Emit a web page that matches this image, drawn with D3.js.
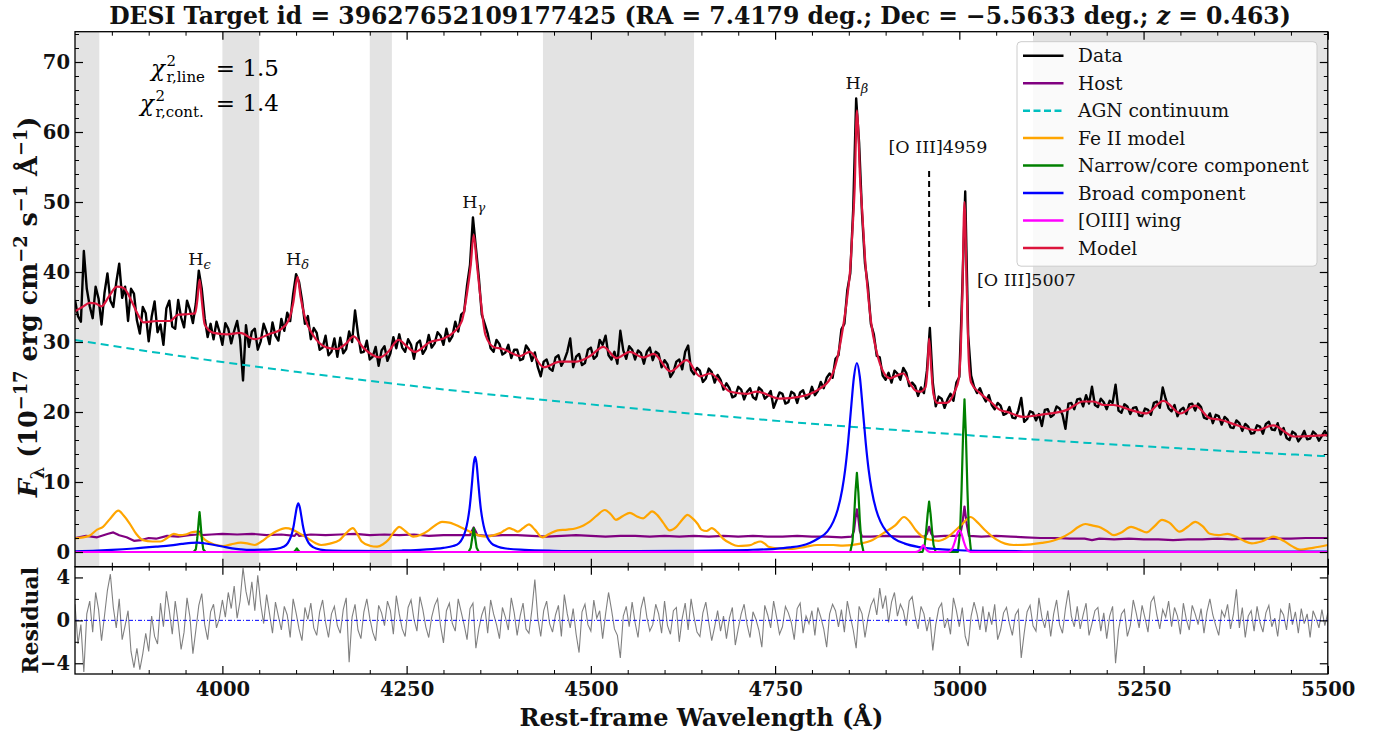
<!DOCTYPE html>
<html>
<head>
<meta charset="utf-8">
<script src="https://cdn.jsdelivr.net/npm/d3@7"></script>
<style>
  body { margin: 0; background: #fff; }
  text { font-family: 'DejaVu Serif', serif; }
</style>
</head>
<body>
<div id="chart"></div>
<script>
// ---- data ----
// observed spectrum, 4 A grid starting 3800
const dataStart = 3800
const dataStep = 4
const dataFlux = [
  36.0, 33.7, 32.9, 43.0, 37.6, 35.1, 33.4, 37.9, 36.2, 32.5,
  37.0, 39.8, 35.9, 35.0, 38.5, 41.2, 36.3, 37.9, 33.0, 37.6,
  36.9, 33.1, 31.2, 35.0, 34.1, 30.1, 33.6, 35.8, 31.4, 32.5,
  29.6, 34.8, 35.9, 32.2, 31.9, 36.0, 33.5, 32.1, 35.9, 34.6,
  32.7, 35.5, 40.2, 37.6, 33.4, 30.7, 32.6, 30.4, 32.9, 31.5,
  29.6, 32.7, 31.9, 29.8, 31.6, 33.0, 30.4, 24.5, 32.4, 29.3,
  31.5, 31.9, 28.9, 30.1, 32.6, 31.4, 29.7, 32.8, 30.9, 30.2,
  33.3, 31.6, 34.2, 33.0, 36.8, 39.7, 38.6, 36.0, 32.6, 33.7,
  30.4, 32.0, 31.3, 28.9, 29.2, 30.9, 28.1, 28.6, 30.5, 27.9,
  30.6, 28.4, 29.0, 31.5, 30.0, 34.5, 31.2, 28.5, 28.6, 30.2,
  27.5, 27.9, 29.3, 26.6, 28.8, 29.4, 27.3, 28.4, 30.7, 29.1,
  31.1, 29.2, 28.6, 30.4, 29.6, 27.6, 29.8, 30.2, 28.3, 29.0,
  31.0, 29.2, 29.8, 31.4, 30.9, 29.6, 31.9, 30.1, 30.8, 32.9,
  31.5, 33.9, 34.3, 38.1, 41.0, 47.8, 43.5, 39.2, 33.9, 32.6,
  31.2, 29.1, 28.6, 30.3, 29.7, 28.2, 28.5, 29.6, 27.7, 28.9,
  28.9, 27.4, 27.6, 29.5, 28.9, 27.3, 28.5, 26.4, 25.1, 27.2,
  27.5, 26.2, 25.9, 27.8, 28.1, 26.6, 27.4, 28.6, 30.5, 26.4,
  27.9, 28.3, 26.7, 27.0, 28.9, 29.2, 27.6, 28.0, 30.3, 29.6,
  30.9, 28.1, 27.5, 28.6, 26.9, 31.6, 28.8, 27.6, 29.4, 28.9,
  27.5, 28.8, 28.4, 26.9, 28.6, 29.2, 27.4, 28.6, 28.3, 26.4,
  27.4, 26.8, 25.0, 25.7, 27.2, 27.5, 26.1, 28.6, 29.5, 26.0,
  25.4, 26.3, 25.9, 24.3, 24.8, 26.2, 25.7, 24.2, 25.3, 24.6,
  23.2, 24.1, 23.4, 22.1, 22.3, 23.6, 23.2, 21.8, 22.9, 23.4,
  22.1, 21.8, 23.5, 23.1, 21.9, 22.3, 23.0, 20.6, 21.7, 22.8,
  22.6, 21.2, 21.4, 22.9, 22.6, 21.3, 22.8, 23.1, 21.9, 22.2,
  23.6, 22.4, 23.0, 24.3, 23.4, 24.9, 25.5, 24.9, 27.6, 28.1,
  31.8, 32.6, 37.4, 39.8, 49.0, 64.8, 58.5, 48.3, 41.2, 37.9,
  32.6, 31.1, 28.0, 27.8, 25.2, 24.6, 25.6, 24.2, 25.9, 25.5,
  24.6, 26.3, 25.6, 23.7, 24.2, 23.7, 22.3, 23.5, 22.7, 25.9,
  32.0, 24.2, 20.8, 22.2, 21.9, 20.6, 21.8, 22.6, 21.6, 24.2,
  25.0, 37.5, 51.5, 31.0, 25.2, 23.6, 22.7, 23.4, 22.3, 21.5,
  22.4, 21.0, 20.4, 21.3, 20.9, 19.6, 19.8, 20.7, 19.2, 19.1,
  20.2, 22.0, 18.6, 19.0, 20.1, 19.9, 18.8, 19.7, 18.0, 20.3,
  20.4, 19.3, 19.6, 20.8, 20.5, 19.6, 17.6, 21.2, 21.3, 20.4,
  21.8, 21.9, 20.8, 22.4, 21.2, 23.6, 21.0, 20.7, 21.9, 21.4,
  20.4, 21.6, 21.3, 23.9, 20.2, 19.9, 21.1, 20.8, 19.7, 20.6,
  20.7, 19.5, 19.4, 20.5, 20.3, 19.6, 21.3, 21.5, 20.6, 23.5,
  21.9, 20.5, 20.1, 21.0, 19.4, 20.3, 20.6, 19.7, 21.1, 21.2,
  20.2, 21.2, 20.7, 19.2, 19.0, 19.8, 18.4, 19.6, 19.4, 18.2,
  19.3, 18.9, 17.8, 17.7, 18.8, 18.4, 17.3, 18.3, 17.9, 16.9,
  17.0, 18.1, 17.9, 16.9, 18.3, 18.6, 17.5, 17.4, 18.4, 16.8,
  17.7, 16.3, 16.0, 17.2, 16.9, 15.8, 16.4, 17.3, 16.1, 16.2,
  17.2, 16.8, 15.9, 16.6, 17.3, 16.5
]

// residual (data - model) / error, same grid
const residual = [
  1.5, -2.2, -0.4, -4.8, 0.6, 1.8, -1.1, 2.6, 1.0, -1.9,
  0.4, 2.8, 4.3, 1.2, -0.7, 2.0, -1.8, -0.5, 0.9, -2.9,
  -4.4, -2.6, -4.6, -3.1, -1.2, -2.9, 0.4, -1.5, -2.2, 1.6,
  -0.6, 2.7, 0.9, -1.3, 1.8, -0.2, -2.7, -1.1, 2.1, 0.3,
  -3.1, -0.9, 1.4, 2.5, -0.4, -1.8, 0.8, 1.5, -0.7, 0.2,
  1.9, 0.3, 2.6, 1.1, 3.2, 0.2, 1.8, 4.9, 2.7, 1.4,
  3.6, 0.9, 4.2, 1.5, -0.3, 2.4, 0.6, -1.2, 1.7, 0.4,
  -0.9, 1.3, 0.5, -1.6, 2.0, 0.7, -0.8, -1.9, 1.2, 0.1,
  1.6, -0.7, -1.4, 0.8, 1.9, -0.2, -1.6, 0.6, 1.3, -0.5,
  -1.2, 1.0, 2.1, -3.9, 0.3, 1.5, -0.9, -1.7, 0.8, 2.0,
  0.2, -1.1, -1.9, 1.4, 0.7, -0.5, 1.8, 0.9, -1.3, 2.3,
  0.6, -0.8, -1.5, 1.2, 1.9, 0.1, -1.0, 2.2, 1.0, -0.6,
  -1.6, 0.3, 1.4, 2.0, -0.5, -2.1, 0.9, 1.6, -0.3, -1.0,
  2.0, 0.8, -0.4, -1.8, 1.1, 1.6, -2.6, -0.8, 0.5, 1.3,
  -1.2, 1.9, 0.6, -0.4, -1.7, 1.2, 0.3, -0.9, 2.1, 0.7,
  -1.4, 0.4, 1.6, -0.8, -1.2, 1.0, 3.8, 0.2, -1.5, 0.9,
  1.8, -0.3, -1.1, 0.5, 1.4, -1.5, 2.4, 0.6, -0.7, 1.1,
  -1.3, -3.0, 0.8, 1.5, -0.4, -1.0, 1.9, 0.2, 0.9, -1.7,
  0.6, 2.6, 1.0, -0.8, -1.4, -3.5, 0.4, 1.3, -0.6, 1.7,
  -0.2, -1.6, 1.1, 2.2, 0.3, -1.0, -0.4, 1.5, 0.6, -1.2,
  1.8, -0.5, -1.3, 0.9, 1.2, -2.0, 0.2, 1.6, -0.9, 2.0,
  0.3, -1.1, -1.5, 0.7, 1.7, -0.2, -1.9, -0.6, 0.9, -1.0,
  0.4, -1.7, 0.2, 1.2, -2.3, -0.8, 0.6, 1.5, -0.4, -1.6,
  0.8, 0.1, -0.9, -2.5, 1.4, 0.5, -0.7, 1.8, 0.3, -1.3,
  -0.6, 1.3, 0.7, -0.2, -1.8, 1.1, 1.6, -1.2, 0.4, -0.3,
  0.9, -1.4, 1.2, 0.3, -0.8, -2.5, 0.6, 1.5, 0.9, -0.6,
  1.0, -1.1, 1.8, 0.4, -0.9, -2.6, 1.3, 0.6, -1.6, 0.2,
  1.4, 2.0, 0.5, 3.0, 1.1, 2.3, -0.2, 1.7, 2.6, 0.4,
  1.5, 0.9, -0.5, 1.8, 2.2, 0.4, -0.8, 1.3, 0.6, -1.0,
  0.3, -2.8, -0.4, 1.1, 1.6, -0.7, 0.2, -1.3, 2.1, 0.9,
  -0.6, 1.2, -1.5, -2.4, 0.4, 1.7, 0.6, -0.9, 1.3, -1.1,
  0.8, -0.4, 1.5, -1.8, -0.9, 0.7, 1.2, -0.3, -1.4, 0.5,
  1.0, -3.5, -1.2, 0.8, 1.4, -0.5, -1.0, 2.1, 0.3, -0.7,
  0.9, -1.5, 0.6, 1.9, -0.4, -1.2, 1.1, 2.8, 0.4, -0.6,
  1.3, -0.8, 0.5, 1.6, -1.4, -0.3, 0.9, 1.2, -1.0, 0.7,
  -1.7, 0.4, 1.3, -4.0, -0.9, 0.6, 1.0, -1.5, -0.5, 1.9,
  0.7, -0.7, 1.4, 0.2, -1.1, 1.7, 2.2, 0.5, -0.8, 1.0,
  0.3, 1.8, -0.6, 1.2, 0.4, -1.3, 1.6, 0.1, -0.9, 1.4,
  0.6, -0.4, 1.1, -1.2, 0.8, 2.0, 0.5, -0.5, -1.4, 0.9,
  0.3, 1.5, -0.8, 0.6, 2.9, -0.7, 1.2, -1.6, 0.4, 0.9,
  -1.0, 1.3, -0.2, -1.1, 0.7, 1.4, -0.6, 0.2, -1.5, 1.0,
  0.5, -0.9, 1.6, -0.4, 0.8, -1.2, 1.1, -0.3, 0.6, -1.6,
  0.9, 0.2, -0.7, 1.0, -0.5, 0.7
]

// full model
const modelWave = [3800, 3810, 3820, 3828, 3836, 3846, 3857, 3866, 3877, 3885, 3893, 3911, 3929, 3940, 3955, 3963, 3966, 3969, 3972, 3976, 3988, 4006, 4024, 4044, 4065, 4078, 4090, 4096, 4102, 4106, 4112, 4123, 4142, 4155, 4168, 4178, 4191, 4214, 4225, 4239, 4250, 4261, 4282, 4300, 4315, 4325, 4332, 4337, 4341, 4345, 4350, 4357, 4368, 4381, 4393, 4404, 4417, 4436, 4458, 4481, 4499, 4517, 4535, 4553, 4571, 4585, 4608, 4630, 4648, 4662, 4689, 4712, 4725, 4757, 4784, 4807, 4825, 4834, 4842, 4848, 4852, 4855, 4858, 4861, 4863, 4865, 4868, 4872, 4876, 4880, 4888, 4897, 4906, 4915, 4924, 4933, 4940, 4947, 4954, 4957, 4959, 4962, 4965, 4970, 4983, 4994, 4999, 5002, 5004, 5007, 5010, 5013, 5016, 5028, 5042, 5055, 5065, 5087, 5110, 5146, 5168, 5182, 5196, 5209, 5232, 5254, 5277, 5300, 5320, 5340, 5354, 5377, 5404, 5426, 5454, 5480, 5500]
const modelFlux = [34.4, 35.0, 35.6, 35.5, 35.1, 36.5, 37.9, 37.7, 35.8, 34.0, 32.8, 33.0, 33.0, 33.9, 34.0, 34.1, 36.0, 38.9, 36.0, 32.5, 31.3, 31.1, 31.3, 30.4, 31.2, 31.7, 33.1, 35.5, 39.3, 36.5, 33.5, 31.0, 29.2, 29.0, 29.8, 30.8, 29.2, 27.8, 28.6, 30.3, 29.4, 28.6, 30.0, 30.5, 31.5, 33.0, 37.0, 41.0, 45.3, 41.5, 36.5, 31.0, 29.3, 29.0, 28.4, 28.0, 28.6, 26.4, 27.2, 27.2, 28.0, 29.3, 27.7, 28.6, 27.8, 28.3, 25.8, 27.4, 25.1, 25.5, 22.9, 22.6, 22.9, 21.9, 22.2, 23.1, 24.8, 27.5, 32.0, 36.5, 40.5, 46.0, 52.0, 63.1, 60.0, 54.0, 49.0, 42.0, 37.0, 33.0, 28.5, 25.7, 24.8, 25.2, 25.5, 24.1, 23.1, 22.9, 23.5, 26.5, 30.5, 26.0, 22.5, 21.3, 21.3, 23.0, 24.6, 29.0, 36.3, 50.0, 38.0, 27.0, 24.2, 22.7, 21.5, 20.3, 20.0, 19.3, 19.6, 20.3, 21.5, 21.5, 21.0, 21.0, 20.3, 19.8, 21.6, 19.8, 20.9, 19.1, 18.9, 18.1, 17.4, 18.1, 16.5, 16.6, 16.7]

// AGN power-law continuum
const contWave = [3800, 3900, 4000, 4100, 4200, 4300, 4400, 4500, 4600, 4700, 4800, 4900, 5000, 5100, 5200, 5300, 5400, 5500]
const contFlux = [30.3, 28.66, 27.14, 25.74, 24.44, 23.23, 22.11, 21.09, 20.11, 19.21, 18.32, 17.53, 16.77, 16.08, 15.42, 14.80, 14.22, 13.68]

// host galaxy
const hostWave = [3800, 3815, 3830, 3845, 3852, 3860, 3870, 3880, 3890, 3900, 3910, 3925, 3940, 3955, 3966, 3969, 3972, 3985, 4000, 4020, 4040, 4060, 4080, 4098, 4101, 4104, 4120, 4140, 4160, 4180, 4200, 4220, 4240, 4260, 4280, 4300, 4320, 4336, 4338, 4341, 4344, 4346, 4360, 4380, 4400, 4420, 4440, 4460, 4480, 4500, 4520, 4540, 4560, 4580, 4600, 4620, 4640, 4660, 4680, 4700, 4720, 4740, 4760, 4780, 4800, 4820, 4840, 4854, 4857, 4859, 4861, 4863, 4865, 4868, 4880, 4900, 4920, 4940, 4953, 4956, 4959, 4962, 4965, 4980, 4995, 5001, 5004, 5007, 5010, 5013, 5030, 5050, 5070, 5090, 5110, 5130, 5150, 5170, 5180, 5190, 5210, 5230, 5250, 5270, 5290, 5310, 5330, 5350, 5370, 5390, 5410, 5430, 5450, 5470, 5500]
const hostFlux = [2.0, 2.3, 2.1, 2.6, 2.8, 2.4, 2.1, 1.6, 1.7, 2.0, 1.9, 2.3, 2.2, 2.4, 2.5, 2.9, 2.4, 2.5, 2.6, 2.5, 2.6, 2.4, 2.5, 2.3, 2.7, 2.3, 2.5, 2.4, 2.5, 2.6, 2.4, 2.5, 2.4, 2.5, 2.3, 2.4, 2.4, 2.4, 2.9, 3.5, 2.9, 2.4, 2.3, 2.4, 2.4, 2.3, 2.2, 2.3, 2.4, 2.3, 2.2, 2.3, 2.3, 2.2, 2.3, 2.2, 2.3, 2.2, 2.3, 2.2, 2.3, 2.2, 2.2, 2.3, 2.2, 2.2, 2.1, 2.2, 3.0, 4.8, 6.1, 4.8, 3.0, 2.2, 2.2, 2.3, 2.2, 2.2, 2.2, 2.6, 3.6, 2.6, 2.2, 2.3, 2.3, 2.4, 4.0, 6.5, 4.0, 2.3, 2.2, 2.3, 2.2, 2.1, 2.0, 2.0, 1.9, 1.9, 1.7, 1.9, 1.8, 1.9, 1.8, 1.8, 1.7, 1.8, 1.8, 1.9, 1.8, 1.9, 1.9, 1.9, 1.9, 2.0, 2.0]

// Fe II template
const feWave = [3800, 3819, 3830, 3838, 3848, 3859, 3866, 3874, 3883, 3892, 3905, 3916, 3925, 3934, 3942, 3950, 3958, 3965, 3971, 3977, 3988, 4001, 4012, 4025, 4035, 4044, 4053, 4062, 4074, 4086, 4095, 4104, 4116, 4126, 4134, 4146, 4159, 4168, 4177, 4183, 4189, 4200, 4210, 4218, 4225, 4233, 4240, 4248, 4259, 4270, 4280, 4290, 4298, 4308, 4316, 4328, 4340, 4350, 4359, 4368, 4377, 4383, 4389, 4395, 4401, 4408, 4416, 4424, 4434, 4444, 4455, 4468, 4480, 4490, 4498, 4508, 4519, 4527, 4534, 4543, 4553, 4562, 4571, 4577, 4583, 4590, 4598, 4607, 4616, 4624, 4631, 4638, 4645, 4650, 4657, 4664, 4672, 4679, 4690, 4700, 4710, 4717, 4723, 4730, 4736, 4741, 4755, 4771, 4790, 4807, 4829, 4842, 4866, 4880, 4897, 4913, 4925, 4933, 4941, 4955, 4972, 4985, 4995, 5005, 5015, 5025, 5035, 5050, 5062, 5074, 5097, 5112, 5127, 5140, 5150, 5162, 5171, 5180, 5189, 5200, 5210, 5220, 5233, 5244, 5254, 5265, 5275, 5285, 5299, 5310, 5320, 5330, 5340, 5352, 5364, 5375, 5386, 5397, 5410, 5426, 5440, 5452, 5462, 5480, 5500]
const feFlux = [1.95, 2.3, 3.2, 3.6, 4.8, 5.9, 5.2, 4.1, 2.6, 1.7, 1.5, 1.5, 2.0, 2.6, 2.4, 2.5, 2.8, 2.9, 2.3, 1.7, 1.1, 0.86, 1.1, 1.33, 1.2, 1.0, 1.5, 2.2, 3.0, 3.4, 3.2, 2.7, 1.95, 1.3, 1.0, 1.2, 1.7, 2.7, 3.4, 2.6, 1.5, 0.9, 0.76, 1.1, 1.7, 2.9, 3.6, 3.0, 2.2, 2.5, 3.1, 3.9, 4.3, 4.2, 3.9, 3.3, 2.7, 2.3, 2.2, 2.4, 2.7, 3.1, 3.4, 3.2, 2.9, 3.4, 3.95, 3.2, 2.1, 2.6, 3.1, 3.2, 3.4, 3.8, 4.3, 5.2, 6.0, 5.4, 4.6, 5.1, 5.6, 5.1, 4.8, 5.3, 5.8, 5.3, 4.2, 3.1, 3.6, 4.6, 5.3, 4.8, 4.0, 3.2, 3.0, 3.4, 2.8, 1.95, 1.2, 0.86, 0.9, 1.0, 1.3, 1.5, 1.2, 0.76, 0.5, 0.43, 0.7, 1.0, 1.0, 0.9, 1.2, 1.6, 2.7, 3.8, 5.0, 4.3, 3.1, 1.9, 1.6, 2.2, 3.1, 4.1, 5.0, 4.2, 3.1, 1.8, 1.2, 1.0, 1.1, 1.3, 1.6, 2.1, 2.7, 3.6, 4.0, 3.8, 3.6, 3.0, 2.4, 2.8, 3.6, 3.2, 2.8, 3.7, 4.6, 4.2, 2.9, 3.6, 4.3, 3.7, 2.6, 2.4, 2.6, 2.2, 1.6, 1.24, 1.5, 2.2, 1.6, 0.8, 0.33, 0.6, 1.0]

// narrow / core emission components
const narrowWave = [3800, 3961, 3964, 3966, 3968, 3969, 3970, 3972, 3974, 3977, 4097, 4099, 4101, 4103, 4105, 4334, 4337, 4339, 4341, 4343, 4345, 4348, 4852, 4855, 4857, 4859, 4861, 4863, 4865, 4867, 4870, 4950, 4953, 4955, 4957, 4959, 4961, 4963, 4965, 4968, 4998, 5001, 5003, 5005, 5007, 5009, 5011, 5013, 5016, 5500]
const narrowFlux = [0, 0, 0.4, 2.0, 4.6, 5.7, 4.6, 2.0, 0.4, 0, 0, 0.2, 0.5, 0.2, 0, 0, 0.6, 2.0, 3.4, 2.0, 0.6, 0, 0, 1.5, 4.5, 8.5, 11.3, 8.5, 4.5, 1.5, 0, 0, 1.0, 3.0, 5.4, 7.2, 5.4, 3.0, 1.0, 0, 0, 2.9, 8.8, 16.5, 21.8, 16.5, 8.8, 2.9, 0, 0]

// broad Balmer components
const broadWave = [3800, 3830, 3850, 3880, 3910, 3930, 3945, 3958, 3966, 3975, 3989, 4000, 4013, 4025, 4038, 4055, 4073, 4083, 4089, 4093, 4095, 4097, 4099, 4101, 4103, 4105, 4107, 4109, 4111, 4113, 4117, 4123, 4133, 4150, 4180, 4213, 4245, 4273, 4300, 4313, 4321, 4326, 4330, 4333, 4335, 4337, 4339, 4341, 4343, 4345, 4347, 4349, 4351, 4353, 4356, 4360, 4365, 4373, 4385, 4410, 4450, 4500, 4560, 4620, 4680, 4720, 4750, 4770, 4785, 4797, 4809, 4821, 4829, 4835, 4841, 4845, 4849, 4853, 4857, 4861, 4865, 4869, 4873, 4877, 4881, 4887, 4893, 4901, 4911, 4926, 4946, 4972, 5000, 5050, 5100, 5300, 5500]
const broadFlux = [0.1, 0.2, 0.3, 0.5, 0.76, 0.95, 1.15, 1.3, 1.33, 1.25, 1.0, 0.78, 0.52, 0.38, 0.3, 0.33, 0.45, 0.75, 1.3, 2.2, 2.9, 3.9, 5.2, 6.4, 6.95, 6.4, 5.2, 3.9, 2.9, 2.2, 1.3, 0.7, 0.35, 0.2, 0.15, 0.14, 0.22, 0.35, 0.6, 0.85, 1.25, 2.0, 3.1, 4.55, 5.9, 7.85, 10.2, 12.6, 13.6, 12.6, 10.2, 7.85, 5.9, 4.55, 3.1, 2.0, 1.25, 0.8, 0.5, 0.3, 0.18, 0.13, 0.12, 0.15, 0.22, 0.32, 0.45, 0.65, 0.9, 1.3, 1.96, 2.95, 4.34, 6.07, 8.9, 11.7, 15.6, 20.4, 25.0, 27.0, 25.0, 20.4, 15.6, 11.7, 8.9, 6.07, 4.34, 2.95, 1.96, 1.2, 0.7, 0.4, 0.25, 0.15, 0.1, 0.06, 0.05]

// [OIII] wing components
const wingWave = [3800, 4940, 4945, 4948, 4951, 4954, 4957, 4962, 4985, 4990, 4994, 4997, 5000, 5003, 5006, 5010, 5015, 5500]
const wingFlux = [0, 0, 0.15, 0.5, 1.0, 0.5, 0.15, 0, 0, 0.4, 1.5, 2.6, 3.1, 2.6, 1.5, 0.4, 0, 0]

// masked (grey) wavelength windows
const maskStart = [3800, 4000, 4200, 4435, 5100]
const maskEnd = [3833, 4050, 4230, 4640, 5500]

// line labels
const lineNames = ['H', 'H', 'H', 'H', '[O III]4959', '[O III]5007']
const lineSubs = ['ϵ', 'δ', 'γ', 'β', '', '']
const lineLabelWave = [3969, 4102, 4341, 4861, 4971, 5091]
const lineLabelFlux = [41.0, 41.0, 49.2, 66.2, 57.0, 38.0]
const o3MarkerWave = 4959
const o3MarkerFlux = [35.0, 54.6]

const legendLabels = ['Data', 'Host', 'AGN continuum', 'Fe II model', 'Narrow/core component', 'Broad component', '[OIII] wing', 'Model']
const legendColors = ['#000000', '#800080', '#00bfbf', '#ffa500', '#008000', '#0000ff', '#ff00ff', '#dc143c']

const xMajorTicks = [4000, 4250, 4500, 4750, 5000, 5250, 5500]
const yMajorTicks = [0, 10, 20, 30, 40, 50, 60, 70]
const resMajorTicks = [-4, 0, 4]

// ---- layout ----
const width = 1375
const height = 734
const pLeft = 75
const pRight = 1327.8
const pTop = 31.7
const pMid = 566.7
const pBottom = 674

const svg = d3
  .select('#chart')
  .append('svg')
  .attr('width', width)
  .attr('height', height)

const xPositionScale = d3.scaleLinear().domain([3800, 5500]).range([pLeft, pRight])
const yPositionScale = d3.scaleLinear().domain([-2.1, 74.33]).range([pMid, pTop])
const yResidualScale = d3.scaleLinear().domain([-5, 5]).range([pBottom, pMid])

const defs = svg.append('defs')
defs
  .append('clipPath')
  .attr('id', 'clip-main')
  .append('rect')
  .attr('x', pLeft)
  .attr('y', pTop)
  .attr('width', pRight - pLeft)
  .attr('height', pMid - pTop)
defs
  .append('clipPath')
  .attr('id', 'clip-res')
  .append('rect')
  .attr('x', pLeft)
  .attr('y', pMid)
  .attr('width', pRight - pLeft)
  .attr('height', pBottom - pMid)

const dataWave = dataFlux.map((d, i) => dataStart + i * dataStep)

const main = svg.append('g').attr('clip-path', 'url(#clip-main)')
const res = svg.append('g').attr('clip-path', 'url(#clip-res)')

// masked windows
main
  .selectAll('.mask')
  .data(maskStart)
  .enter()
  .append('rect')
  .attr('class', 'mask')
  .attr('x', d => xPositionScale(d))
  .attr('y', pTop)
  .attr('width', (d, i) => xPositionScale(maskEnd[i]) - xPositionScale(d))
  .attr('height', pMid - pTop)
  .attr('fill', '#e3e3e3')

const straight = d3
  .line()
  .x(d => xPositionScale(d[0]))
  .y(d => yPositionScale(d[1]))
const smooth = d3
  .line()
  .curve(d3.curveMonotoneX)
  .x(d => xPositionScale(d[0]))
  .y(d => yPositionScale(d[1]))

const series = [
  { wave: dataWave, flux: dataFlux, color: legendColors[0], gen: straight, width: 2.4 },
  { wave: hostWave, flux: hostFlux, color: legendColors[1], gen: straight, width: 2.2 },
  { wave: contWave, flux: contFlux, color: legendColors[2], gen: smooth, width: 2, dash: '8,5' },
  { wave: feWave, flux: feFlux, color: legendColors[3], gen: smooth, width: 2.2 },
  { wave: narrowWave, flux: narrowFlux, color: legendColors[4], gen: straight, width: 2.2 },
  { wave: broadWave, flux: broadFlux, color: legendColors[5], gen: smooth, width: 2.2 },
  { wave: wingWave, flux: wingFlux, color: legendColors[6], gen: smooth, width: 2.2 },
  { wave: modelWave, flux: modelFlux, color: legendColors[7], gen: smooth, width: 2.2 }
]

series.forEach(s => {
  main
    .append('path')
    .attr('d', s.gen(d3.zip(s.wave, s.flux)))
    .attr('fill', 'none')
    .attr('stroke', s.color)
    .attr('stroke-width', s.width)
    .attr('stroke-linejoin', 'round')
    .attr('stroke-dasharray', s.dash || null)
})

// [O III]4959 marker
main
  .append('line')
  .attr('x1', xPositionScale(o3MarkerWave))
  .attr('x2', xPositionScale(o3MarkerWave))
  .attr('y1', yPositionScale(o3MarkerFlux[0]))
  .attr('y2', yPositionScale(o3MarkerFlux[1]))
  .attr('stroke', '#000')
  .attr('stroke-width', 2)
  .attr('stroke-dasharray', '6,4')

// line labels
lineNames.forEach((name, i) => {
  const t = svg
    .append('text')
    .attr('x', xPositionScale(lineLabelWave[i]))
    .attr('y', yPositionScale(lineLabelFlux[i]))
    .attr('text-anchor', 'middle')
    .attr('font-size', 17.5)
    .attr('fill', '#111')
  t.append('tspan').text(name)
  if (lineSubs[i]) {
    t.append('tspan')
      .attr('dy', 4)
      .attr('font-size', 13)
      .attr('font-style', 'italic')
      .text(lineSubs[i])
  }
})

// residual panel
res
  .append('path')
  .attr('d', d3
    .line()
    .x(d => xPositionScale(d[0]))
    .y(d => yResidualScale(d[1]))(d3.zip(dataWave, residual)))
  .attr('fill', 'none')
  .attr('stroke', '#808080')
  .attr('stroke-width', 1.1)
res
  .append('line')
  .attr('x1', pLeft)
  .attr('x2', pRight)
  .attr('y1', yResidualScale(0))
  .attr('y2', yResidualScale(0))
  .attr('stroke', '#0000ff')
  .attr('stroke-width', 1)
  .attr('stroke-dasharray', '4,2,1,2')

// ---- axes ----
function tickRow(axisFn, scale, values, size, labelled, transform) {
  const g = svg
    .append('g')
    .attr('transform', transform)
    .call(
      axisFn(scale)
        .tickValues(values)
        .tickSize(-size)
        .tickSizeOuter(0)
        .tickPadding(labelled ? 8 : 0)
        .tickFormat(labelled ? d3.format('d') : '')
    )
  g.select('.domain').remove()
  g.selectAll('line').attr('stroke', '#000').attr('stroke-width', size > 5 ? 1.2 : 1)
  g.attr('font-family', null).attr('font-size', null)
  g.selectAll('text')
    .attr('font-size', 19.5)
    .attr('font-weight', 'bold')
    .attr('fill', '#111')
  return g
}

const xMinor = d3.range(3850, 5500, 50).filter(d => d % 250 !== 0)
const yMinor = d3.range(-2, 75, 2).filter(d => d % 10 !== 0)
const resMinor = [-2, 2]

// main panel ticks
tickRow(d3.axisBottom, xPositionScale, xMajorTicks, 8, false, `translate(0,${pMid})`)
tickRow(d3.axisBottom, xPositionScale, xMinor, 4, false, `translate(0,${pMid})`)
tickRow(d3.axisTop, xPositionScale, xMajorTicks, 8, false, `translate(0,${pTop})`)
tickRow(d3.axisTop, xPositionScale, xMinor, 4, false, `translate(0,${pTop})`)
const yAx = tickRow(d3.axisLeft, yPositionScale, yMajorTicks, 8, true, `translate(${pLeft},0)`)
yAx.selectAll('text').attr('dx', 3)
tickRow(d3.axisLeft, yPositionScale, yMinor, 4, false, `translate(${pLeft},0)`)
tickRow(d3.axisRight, yPositionScale, yMajorTicks, 8, false, `translate(${pRight},0)`)
tickRow(d3.axisRight, yPositionScale, yMinor, 4, false, `translate(${pRight},0)`)

// residual ticks
tickRow(d3.axisBottom, xPositionScale, xMajorTicks, 8, true, `translate(0,${pBottom})`)
tickRow(d3.axisBottom, xPositionScale, xMinor, 4, false, `translate(0,${pBottom})`)
tickRow(d3.axisTop, xPositionScale, xMajorTicks, 8, false, `translate(0,${pMid})`)
tickRow(d3.axisTop, xPositionScale, xMinor, 4, false, `translate(0,${pMid})`)
const rAx = tickRow(d3.axisLeft, yResidualScale, resMajorTicks, 8, true, `translate(${pLeft},0)`)
rAx.selectAll('text').attr('dx', 3)
tickRow(d3.axisLeft, yResidualScale, resMinor, 4, false, `translate(${pLeft},0)`)
tickRow(d3.axisRight, yResidualScale, resMajorTicks, 8, false, `translate(${pRight},0)`)
tickRow(d3.axisRight, yResidualScale, resMinor, 4, false, `translate(${pRight},0)`)

// frames
svg
  .append('rect')
  .attr('x', pLeft)
  .attr('y', pTop)
  .attr('width', pRight - pLeft)
  .attr('height', pMid - pTop)
  .attr('fill', 'none')
  .attr('stroke', '#000')
  .attr('stroke-width', 1.3)
svg
  .append('rect')
  .attr('x', pLeft)
  .attr('y', pMid)
  .attr('width', pRight - pLeft)
  .attr('height', pBottom - pMid)
  .attr('fill', 'none')
  .attr('stroke', '#000')
  .attr('stroke-width', 1.3)

// ---- legend ----
const legend = svg.append('g').attr('transform', 'translate(1017,41.7)')
legend
  .append('rect')
  .attr('width', 300)
  .attr('height', 224.5)
  .attr('rx', 4)
  .attr('fill', '#fff')
  .attr('fill-opacity', 0.8)
  .attr('stroke', '#cccccc')
legendLabels.forEach((label, i) => {
  const cy = 14 + i * 27.47
  legend
    .append('line')
    .attr('x1', 6)
    .attr('x2', 46.5)
    .attr('y1', cy)
    .attr('y2', cy)
    .attr('stroke', legendColors[i])
    .attr('stroke-width', 2.5)
    .attr('stroke-dasharray', i === 2 ? '7,3.5' : null)
  legend
    .append('text')
    .attr('x', 61)
    .attr('y', cy + 6.6)
    .attr('font-size', 18.6)
    .attr('fill', '#111')
    .text(label)
})

// ---- fit statistics ----
function chiLabel(y, sub, value, chiRight) {
  svg.append('text')
    .attr('x', chiRight)
    .attr('y', y)
    .attr('text-anchor', 'end')
    .attr('font-size', 23)
    .attr('font-style', 'italic')
    .text('χ')
  svg.append('text')
    .attr('x', chiRight + 1.5)
    .attr('y', y - 10)
    .attr('font-size', 15)
    .text('2')
  svg.append('text')
    .attr('x', chiRight + 1.5)
    .attr('y', y + 5.5)
    .attr('font-size', 15)
    .text(sub)
  svg.append('text')
    .attr('x', 279)
    .attr('y', y)
    .attr('text-anchor', 'end')
    .attr('font-size', 23)
    .text('= ' + value)
}
chiLabel(76, 'r,line', '1.5', 165)
chiLabel(111, 'r,cont.', '1.4', 154)

// ---- title and axis labels ----
const title = svg
  .append('text')
  .attr('x', 700)
  .attr('y', 24)
  .attr('text-anchor', 'middle')
  .attr('font-size', 23.5)
  .attr('font-weight', 'bold')
  .attr('fill', '#111')
title.append('tspan').text('DESI Target id = 39627652109177425 (RA = 7.4179 deg.; Dec = −5.5633 deg.; ')
title.append('tspan').attr('font-style', 'italic').text('z')
title.append('tspan').text(' = 0.463)')

svg
  .append('text')
  .attr('x', (pLeft + pRight) / 2)
  .attr('y', 726)
  .attr('text-anchor', 'middle')
  .attr('font-size', 24)
  .attr('font-weight', 'bold')
  .attr('fill', '#111')
  .text('Rest-frame Wavelength (Å)')

function richText(sel, parts, size) {
  let shift = 0
  parts.forEach(p => {
    const target = p.sup ? -0.4 * size : p.sub ? 0.28 * size : 0
    sel
      .append('tspan')
      .attr('dy', target - shift)
      .attr('font-size', p.sup || p.sub ? size * 0.7 : size)
      .attr('font-style', p.italic ? 'italic' : null)
      .text(p.t)
    shift = target
  })
}

const ylab = svg
  .append('text')
  .attr('transform', 'translate(37,307) rotate(-90)')
  .attr('text-anchor', 'middle')
  .attr('font-weight', 'bold')
  .attr('font-size', 25.5)
  .attr('fill', '#111')
richText(ylab, [
  { t: 'F', italic: true },
  { t: 'λ', sub: true },
  { t: ' (10' },
  { t: '−17', sup: true },
  { t: ' erg cm' },
  { t: '−2', sup: true },
  { t: ' s' },
  { t: '−1', sup: true },
  { t: ' Å' },
  { t: '−1', sup: true },
  { t: ')' }
], 25.5)

svg
  .append('text')
  .attr('transform', `translate(38,${(pMid + pBottom) / 2}) rotate(-90)`)
  .attr('text-anchor', 'middle')
  .attr('font-weight', 'bold')
  .attr('font-size', 22)
  .attr('fill', '#111')
  .text('Residual')
</script>
</body>
</html>
